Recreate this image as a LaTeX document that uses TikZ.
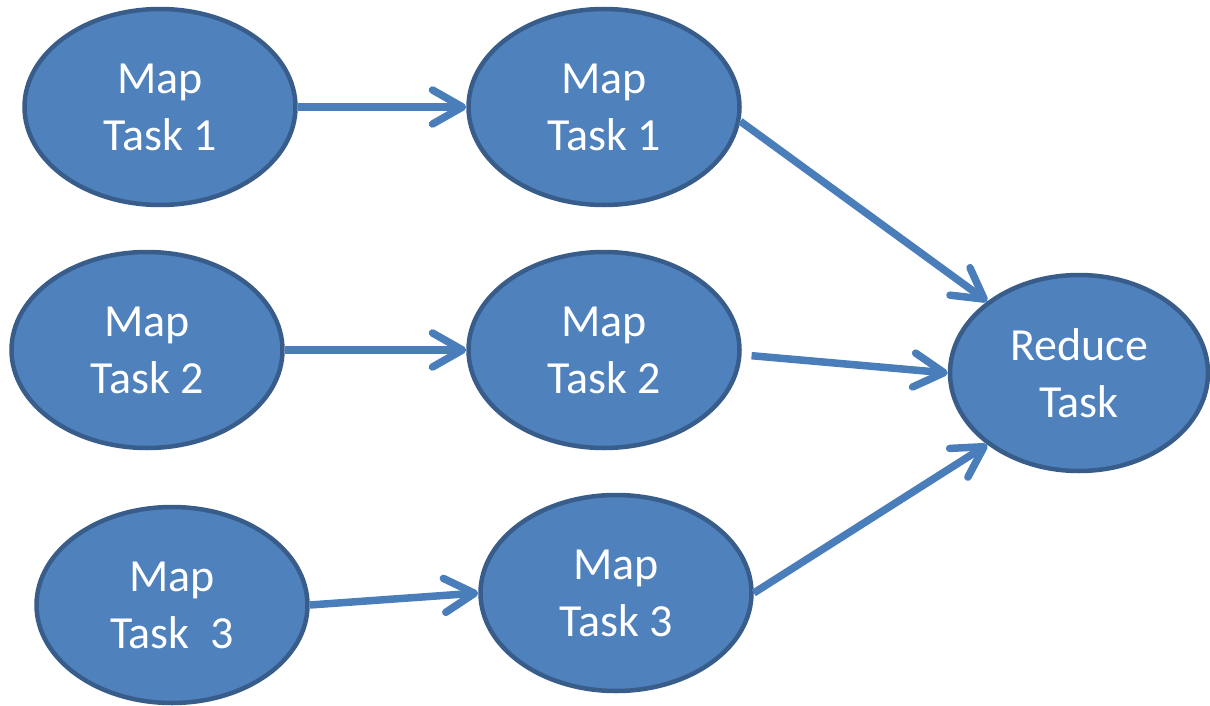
\documentclass[tikz,border=0pt]{standalone}
\usepackage{fontspec}
\setmainfont{Carlito}
\usetikzlibrary{arrows.meta,shapes.geometric}
\definecolor{taskfill}{HTML}{4F81BD}
\definecolor{taskedge}{HTML}{385D8A}
\definecolor{flow}{HTML}{4A7EBB}
\tikzset{
  task/.style={ellipse, draw=taskedge, fill=taskfill, line width=4.5pt,
    minimum width=271pt, minimum height=196pt, inner sep=0pt,
    text=white, align=center, font=\fontsize{46}{57}\selectfont},
  flowarrow/.style={draw=flow, line width=7.5pt,
    -{Straight Barb[length=30pt, width=34pt, round]}},
}
\begin{document}
\begin{tikzpicture}[x=1pt, y=-1pt]
  \useasboundingbox (0,0) rectangle (1210,706);
  % first column of map tasks
  \node[task] (a1) at (160,107) {Map\\Task 1};
  \node[task] (a2) at (147,350) {Map\\Task 2};
  \node[task] (a3) at (172,605) {Map\\Task~~3};
  % second column of map tasks
  \node[task] (b1) at (604,107) {Map\\Task 1};
  \node[task] (b2) at (604,350) {Map\\Task 2};
  \node[task] (b3) at (616,593) {Map\\Task 3};
  % reducer
  \node[task, minimum width=258pt] (r) at (1079,373) {Reduce\\Task};
  % connectors
  \draw[flowarrow] (a1.0) -- (b1.180);
  \draw[flowarrow] (a2.0) -- (b2.180);
  \draw[flowarrow] (a3.0) -- (b3.180);
  \draw[flowarrow] (b1.-6.7) -- (r.142);
  \draw[flowarrow, shorten <=10pt] (b2.-2) -- (r.180);
  \draw[flowarrow] (b3.0) -- (r.218);
\end{tikzpicture}
\end{document}
